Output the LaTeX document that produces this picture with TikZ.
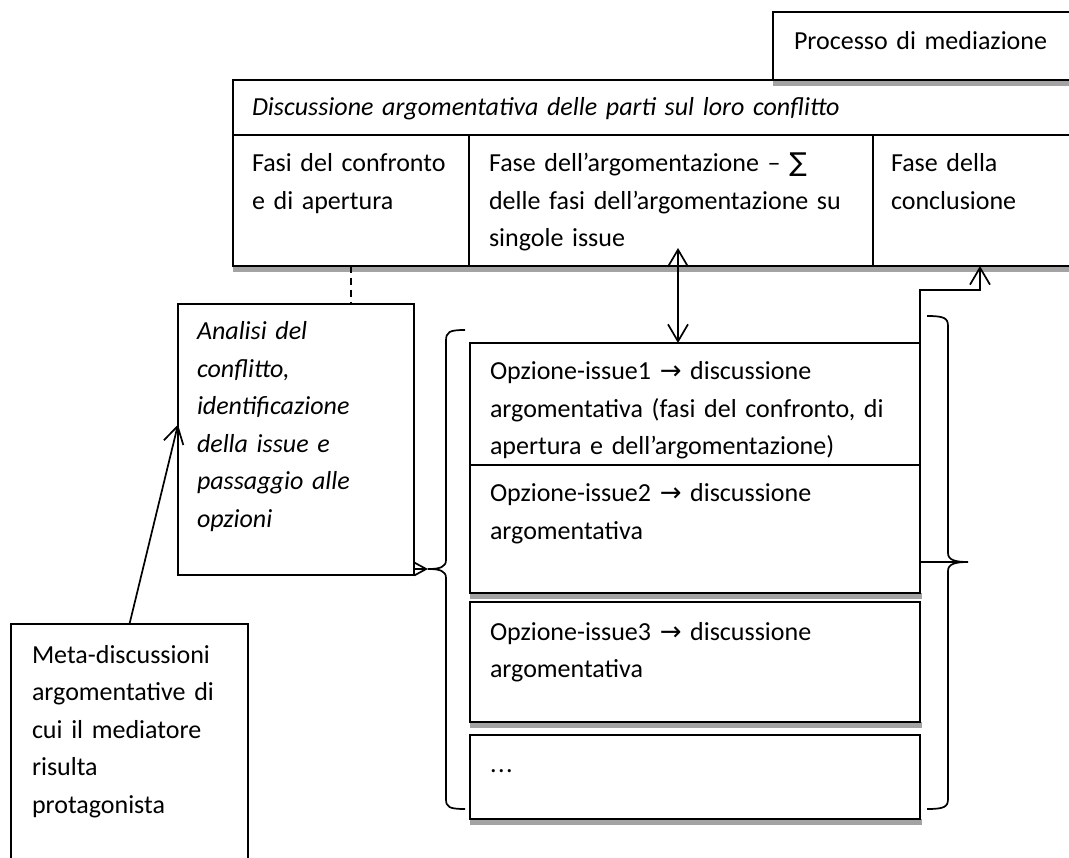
\documentclass[tikz,border=0pt]{standalone}
\usepackage{fontspec}
\setmainfont{Carlito}
\newfontfamily\symfont{DejaVu Sans}
\usetikzlibrary{arrows.meta,calc}
\begin{document}
\begin{tikzpicture}[x=1pt,y=-1pt,
  box/.style={draw=black,line width=1.7pt,inner sep=0pt,outer sep=0pt,anchor=north west},
  txt/.style={anchor=base west,inner sep=0pt,outer sep=0pt,text width=600pt,align=left,font=\fontsize{26}{37.5}\selectfont},
  conn/.style={draw=black,line width=1.7pt},
  barb/.style={-{Straight Barb[length=17pt,width=20pt,line width=1.7pt]}},
  dbarb/.style={{Straight Barb[length=17pt,width=20pt,line width=1.7pt]}-{Straight Barb[length=17pt,width=20pt,line width=1.7pt]}},
  smallbarb/.style={-{Straight Barb[length=12pt,width=13pt,line width=1.7pt]}},
  shadowband/.style={fill=black!36,draw=none},
  bracepath/.style={draw=black,line width=1.7pt}
]
\useasboundingbox (0,0) rectangle (1069,858);

% shadows
\fill[shadowband] (773,80) rectangle (1075,86);
\fill[shadowband] (233,266) rectangle (1075,272);
\fill[shadowband] (470,593) rectangle (922,599);
\fill[shadowband] (470,722) rectangle (922,728);
\fill[shadowband] (470,819) rectangle (922,825);

% boxes
\node[box,minimum width=302pt,minimum height=68pt] (proc) at (773,12) {};
\node[box,minimum width=842pt,minimum height=55pt] (disc) at (233,80) {};
\node[box,minimum width=236pt,minimum height=131pt] (c1) at (233,135) {};
\node[box,minimum width=404pt,minimum height=131pt] (c2) at (469,135) {};
\node[box,minimum width=202pt,minimum height=131pt] (c3) at (873,135) {};
\node[box,minimum width=236pt,minimum height=271pt] (analisi) at (178,304) {};
\node[box,minimum width=237pt,minimum height=250pt] (meta) at (11,624) {};
\node[box,minimum width=450pt,minimum height=122pt] (opt1) at (470,343) {};
\node[box,minimum width=450pt,minimum height=128pt] (opt2) at (470,465) {};
\node[box,minimum width=450pt,minimum height=120pt] (opt3) at (470,602) {};
\node[box,minimum width=450pt,minimum height=84pt] (opt4) at (470,735) {};

% texts
\node[txt] (tproc) at (794,50) {Processo di mediazione};
\node[txt] (tdisc) at (252,116) {\itshape Discussione argomentativa delle parti sul loro conflitto};
\node[txt] (tc1) at (252,172) {Fasi del confronto\\e di apertura};
\node[txt] (tc2) at (489,172) {Fase dell’argomentazione – {\symfont ∑}\\delle fasi dell’argomentazione su\\singole issue};
\node[txt] (tc3) at (891,172) {Fase della\\conclusione};
\node[txt] (tanalisi) at (197,340) {\itshape Analisi del\\conflitto,\\identificazione\\della issue e\\passaggio alle\\opzioni};
\node[txt] (topt1) at (490,380) {Opzione-issue1 {\symfont →} discussione\\argomentativa (fasi del confronto, di\\apertura e dell’argomentazione)};
\node[txt] (topt2) at (490,502) {Opzione-issue2 {\symfont →} discussione\\argomentativa};
\node[txt] (topt3) at (490,640) {Opzione-issue3 {\symfont →} discussione\\argomentativa};
\node[txt] (topt4) at (490,772) {.\kern1.5pt.\kern1.5pt.};
\node[txt] (tmeta) at (32,663) {Meta-discussioni\\argomentative di\\cui il mediatore\\risulta\\protagonista};

% braces
\path[bracepath] (465,330) .. controls (449,330) and (446,332) .. (446,341)
  -- (446,560) .. controls (446,567) and (440,569) .. (428,569)
  .. controls (440,569) and (446,571) .. (446,578)
  -- (446,799) .. controls (446,807) and (449,809) .. (465,809);
\path[bracepath] (927,316) .. controls (944,316) and (948,318) .. (948,326)
  -- (948,553) .. controls (948,560) and (955,562) .. (968,562)
  .. controls (955,562) and (948,564) .. (948,571)
  -- (948,799) .. controls (948,807) and (944,809) .. (927,809);
\coordinate (brL) at (428,569);
\coordinate (brR) at (968,562);
\coordinate (elbow) at (920,290);
\coordinate (dtop) at (678,248);
\coordinate (c3tip) at ([xshift=6pt]c3.south);

% connectors
\draw[conn,dashed,dash pattern=on 7pt off 5pt] (c1.south) -- (c1.south |- analisi.north);
\draw[conn,barb] (meta.north) -- ([yshift=15pt]analisi.west);
\draw[conn,dbarb] (dtop |- opt1.north) -- (dtop);
\draw[conn,smallbarb] (analisi.east |- brL) -- (brL);
\draw[conn,barb] (brR) -- (brR -| elbow) -- (elbow) -| (c3tip);
\end{tikzpicture}
\end{document}
